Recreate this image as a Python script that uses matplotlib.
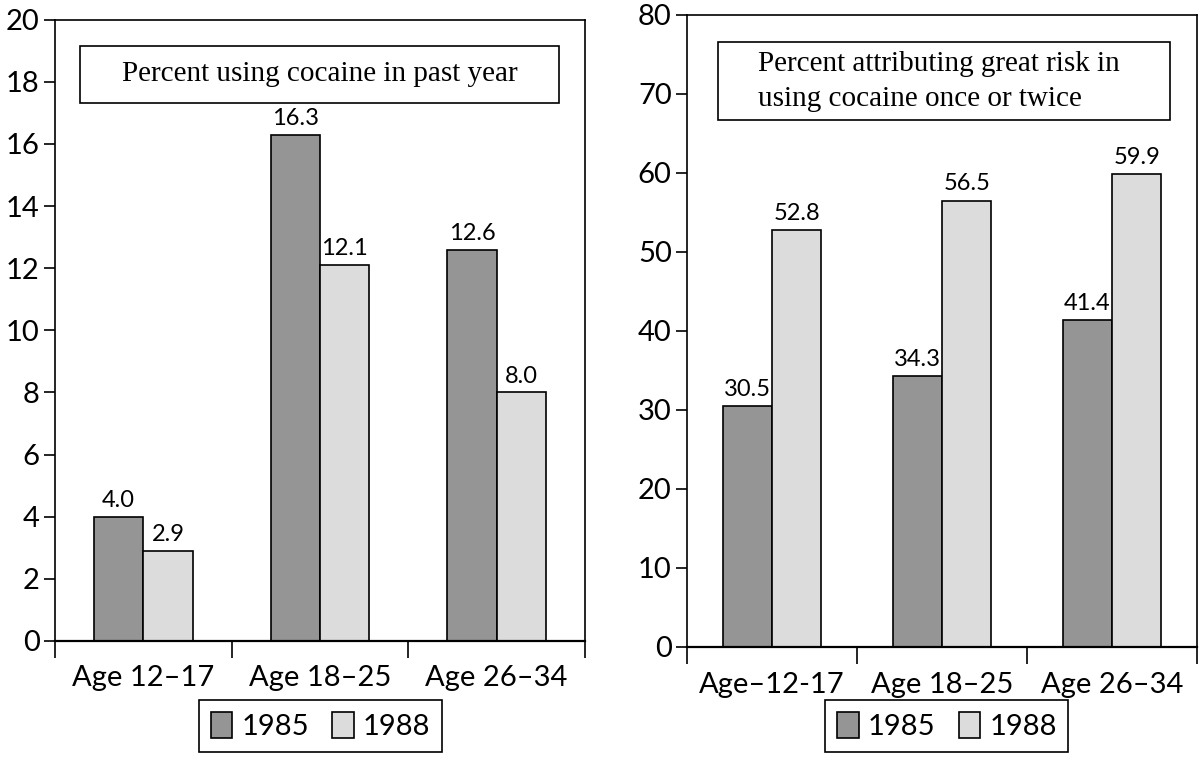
import matplotlib
matplotlib.use("Agg")
import matplotlib.pyplot as plt
from matplotlib.patches import Rectangle
import numpy as np

plt.rcParams['font.family'] = ['Lato', 'DejaVu Sans']

left_categories = ["Age 12\u201317", "Age 18\u201325", "Age 26\u201334"]
right_categories = ["Age\u201312-17", "Age 18\u201325", "Age 26\u201334"]
series_names = ["1985", "1988"]
use_1985 = [4.0, 16.3, 12.6]
use_1988 = [2.9, 12.1, 8.0]
risk_1985 = [30.5, 34.3, 41.4]
risk_1988 = [52.8, 56.5, 59.9]
left_title = "Percent using cocaine in past year"
right_title = "Percent attributing great risk in\nusing cocaine once or twice"

c85 = "#959595"
c88 = "#dcdcdc"

fig = plt.figure(figsize=(12, 7.67), dpi=100)
axL = fig.add_axes([0.0458, 0.1643, 0.4417, 0.810])
axR = fig.add_axes([0.5725, 0.1565, 0.4250, 0.824])


def draw(ax, cats, a, b, ymax, ystep, bw, title, rect, ha, tx, xpad):
    x = np.arange(len(cats))
    h1 = ax.bar(x - bw / 2, a, bw, color=c85, edgecolor="black", linewidth=1.2, label=series_names[0])
    h2 = ax.bar(x + bw / 2, b, bw, color=c88, edgecolor="black", linewidth=1.2, label=series_names[1])
    for xi, v in zip(x - bw / 2, a):
        ax.text(xi, v + ymax * 0.016, f"{v:.1f}", ha="center", va="baseline", fontsize=17)
    for xi, v in zip(x + bw / 2, b):
        ax.text(xi, v + ymax * 0.016, f"{v:.1f}", ha="center", va="baseline", fontsize=17)
    ax.set_xlim(-0.5, len(cats) - 0.5)
    ax.set_ylim(0, ymax)
    ax.set_yticks(np.arange(0, ymax + 0.1, ystep))
    ax.set_xticks(np.arange(-0.5, len(cats), 1.0))
    ax.set_xticklabels([])
    ax.set_xticks(x, minor=True)
    ax.set_xticklabels(cats, minor=True, fontsize=21)
    ax.tick_params(axis="x", which="major", direction="out", length=12, width=1.2)
    ax.tick_params(axis="x", which="minor", length=0, pad=xpad)
    ax.tick_params(axis="y", direction="out", length=8, width=1.2, labelsize=21, pad=3)
    for s in ax.spines.values():
        s.set_linewidth(1.2)
    ax.spines["bottom"].set_linewidth(1.6)
    x0, y0, x1, y1 = rect
    ax.add_patch(Rectangle((x0, y0), x1 - x0, y1 - y0, transform=ax.transAxes,
                           facecolor="white", edgecolor="black", linewidth=1.2, zorder=5))
    ax.text(tx, (y0 + y1) / 2, title, transform=ax.transAxes, ha=ha, va="center",
            fontsize=21, family="Liberation Serif", zorder=6, linespacing=1.45)
    return h1, h2


h = draw(axL, left_categories, use_1985, use_1988, 20, 2, 0.28, left_title,
         (0.047, 0.866, 0.951, 0.958), "center", 0.499, 17)
draw(axR, right_categories, risk_1985, risk_1988, 80, 10, 0.29, right_title,
     (0.061, 0.834, 0.947, 0.957), "left", 0.139, 18)

for cx in (0.267, 0.789):
    fig.legend(h, series_names, loc="center", bbox_to_anchor=(cx, 0.0535), ncol=2,
               fontsize=21, frameon=True, fancybox=False, edgecolor="black",
               handlelength=0.75, handleheight=1.0, handletextpad=0.3, columnspacing=0.8,
               borderpad=0.4, framealpha=1).get_frame().set_linewidth(1.2)

fig.savefig("out.png", dpi=100)
